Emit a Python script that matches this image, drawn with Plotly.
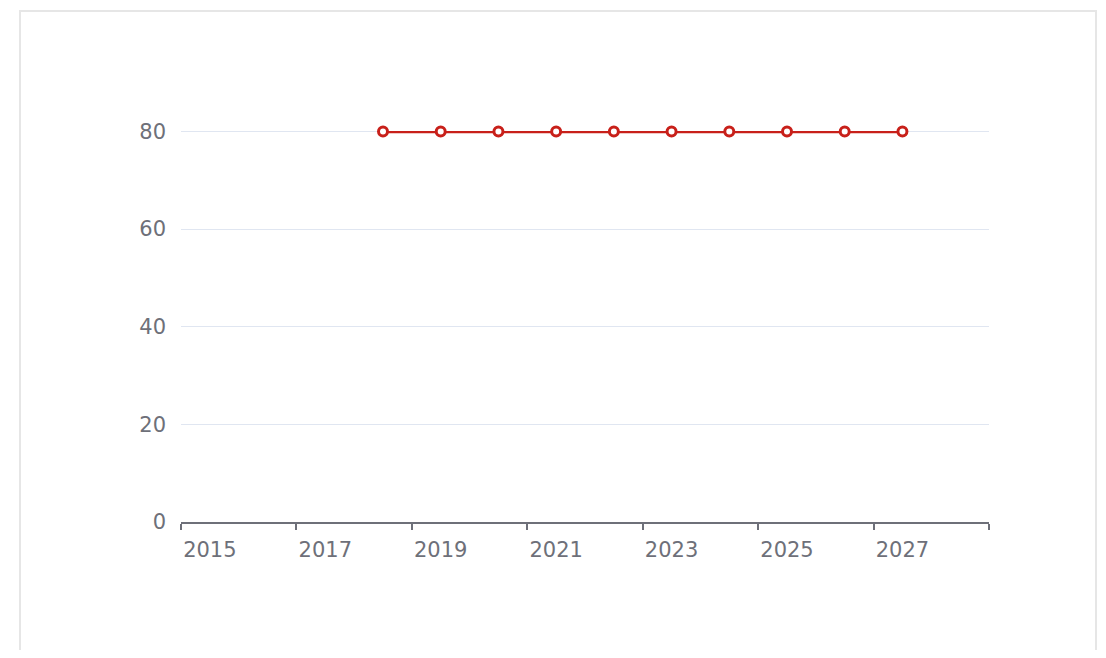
import plotly.graph_objects as go

years = list(range(2015, 2029))
values = [None, None, None, 80, 80, 80, 80, 80, 80, 80, 80, 80, 80, None]
tick_years = [2015, 2017, 2019, 2021, 2023, 2025, 2027]
y_ticks = [0, 20, 40, 60, 80]

OFF = 8  # page body margin
W, H = 1106 - 2 * OFF, 658 - 2 * OFF
L, R, T, B = 181 - OFF, 989 - OFF, 131 - OFF, 522 - OFF

fig = go.Figure()
fig.add_trace(go.Scatter(
    x=years, y=values, mode="lines+markers",
    line=dict(color="#C8201A", width=3.5),
    marker=dict(symbol="circle", size=9, color="#ffffff",
                line=dict(color="#C8201A", width=3)),
    cliponaxis=False, connectgaps=False, showlegend=False,
))

axis_col = "#6E7079"
grid_col = "#E0E6F1"
font_fam = "DejaVu Sans, Noto Sans, sans-serif"
fig.update_layout(
    width=W, height=H,
    margin=dict(l=L, r=W - R, t=T, b=H - B, pad=0),
    paper_bgcolor="#ffffff", plot_bgcolor="#ffffff",
    font=dict(family=font_fam, size=21, color=axis_col),
    xaxis=dict(
        range=[2014.5, 2028.5], tickmode="array", tickvals=tick_years,
        ticktext=[str(v) for v in tick_years],
        ticks="", showgrid=False, zeroline=False,
        showline=True, linecolor=axis_col, linewidth=1.5,
        ticklabelstandoff=8,
        tickfont=dict(family=font_fam, size=21, color=axis_col),
        minor=dict(tick0=2014.5, dtick=2, ticks="outside", ticklen=6,
                   tickwidth=1.5, tickcolor=axis_col, showgrid=False),
    ),
    yaxis=dict(
        range=[0, 80.1], tickmode="array", tickvals=y_ticks,
        showgrid=True, gridcolor=grid_col, gridwidth=1,
        zeroline=False, showline=False, ticks="",
        ticklabelstandoff=14,
        tickfont=dict(family=font_fam, size=21, color=axis_col),
    ),
    shapes=[
        dict(
            type="rect", xref="paper", yref="paper",
            x0=(20 - OFF - L) / (R - L), x1=(1096 - OFF - L) / (R - L),
            y0=(B - 700) / (B - T), y1=(B - (11 - OFF)) / (B - T),
            line=dict(color="#E6E6E6", width=2), fillcolor="rgba(0,0,0,0)",
            layer="below",
        ),
        dict(
            type="line", xref="paper", yref="y", x0=0, x1=1,
            y0=y_ticks[-1], y1=y_ticks[-1],
            line=dict(color=grid_col, width=1), layer="below",
        ),
    ],
)

fig.write_html("out.html")
